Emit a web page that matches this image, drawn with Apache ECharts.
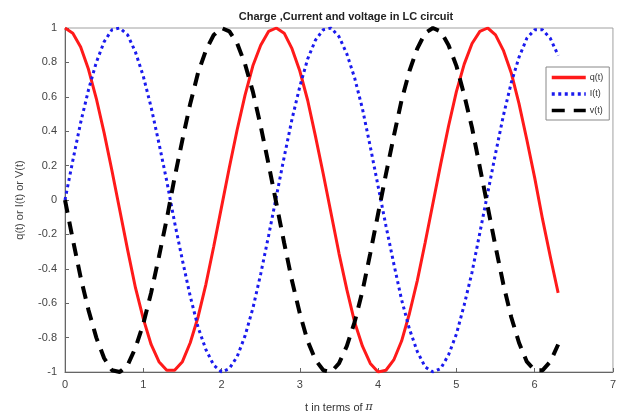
<!DOCTYPE html>
<html>
<head>
<meta charset="utf-8">
<script src="https://cdn.jsdelivr.net/npm/echarts@6/dist/echarts.min.js"></script>
<style>
  html, body { margin: 0; padding: 0; background: #fff; }
  #chart { width: 619px; height: 419px; }
</style>
</head>
<body>
<div id="chart"></div>
<script>
// Sample times (t), step 0.1
const tValues = [
  0.0, 0.1, 0.2, 0.3, 0.4, 0.5, 0.6, 0.7, 0.8, 0.9,
  1.0, 1.1, 1.2, 1.3, 1.4, 1.5, 1.6, 1.7, 1.8, 1.9,
  2.0, 2.1, 2.2, 2.3, 2.4, 2.5, 2.6, 2.7, 2.8, 2.9,
  3.0, 3.1, 3.2, 3.3, 3.4, 3.5, 3.6, 3.7, 3.8, 3.9,
  4.0, 4.1, 4.2, 4.3, 4.4, 4.5, 4.6, 4.7, 4.8, 4.9,
  5.0, 5.1, 5.2, 5.3, 5.4, 5.5, 5.6, 5.7, 5.8, 5.9,
  6.0, 6.1, 6.2, 6.3
];

// Charge q(t)
const chargeQ = [
  1.00, 0.97, 0.89, 0.76, 0.59, 0.39, 0.17, -0.06, -0.29, -0.51,
  -0.69, -0.84, -0.94, -0.99, -0.99, -0.94, -0.83, -0.68, -0.49, -0.27,
  -0.04, 0.19, 0.41, 0.61, 0.78, 0.90, 0.98, 1.00, 0.97, 0.88,
  0.75, 0.58, 0.37, 0.15, -0.08, -0.31, -0.52, -0.71, -0.85, -0.95,
  -1.00, -0.99, -0.93, -0.82, -0.66, -0.47, -0.25, -0.02, 0.21, 0.43,
  0.63, 0.79, 0.91, 0.98, 1.00, 0.96, 0.87, 0.74, 0.56, 0.35,
  0.13, -0.11, -0.33, -0.54
];

// Current I(t)
const currentI = [
  0.00, 0.23, 0.45, 0.64, 0.80, 0.92, 0.99, 1.00, 0.96, 0.86,
  0.72, 0.54, 0.33, 0.11, -0.13, -0.35, -0.56, -0.74, -0.87, -0.96,
  -1.00, -0.98, -0.91, -0.79, -0.63, -0.43, -0.21, 0.02, 0.25, 0.47,
  0.66, 0.82, 0.93, 0.99, 1.00, 0.95, 0.85, 0.71, 0.53, 0.31,
  0.08, -0.15, -0.37, -0.58, -0.75, -0.88, -0.97, -1.00, -0.98, -0.90,
  -0.78, -0.61, -0.42, -0.19, 0.04, 0.27, 0.49, 0.68, 0.83, 0.94,
  0.99, 0.99, 0.94, 0.84
];

// Voltage v(t)
const voltageV = [
  0.00, -0.23, -0.45, -0.64, -0.80, -0.92, -0.99, -1.00, -0.96, -0.86,
  -0.72, -0.54, -0.33, -0.11, 0.13, 0.35, 0.56, 0.74, 0.87, 0.96,
  1.00, 0.98, 0.91, 0.79, 0.63, 0.43, 0.21, -0.02, -0.25, -0.47,
  -0.66, -0.82, -0.93, -0.99, -1.00, -0.95, -0.85, -0.71, -0.53, -0.31,
  -0.08, 0.15, 0.37, 0.58, 0.75, 0.88, 0.97, 1.00, 0.98, 0.90,
  0.78, 0.61, 0.42, 0.19, -0.04, -0.27, -0.49, -0.68, -0.83, -0.94,
  -0.99, -0.99, -0.94, -0.84
];

const seriesNames = ['q(t)', 'I(t)', 'v(t)'];
const titleText = 'Charge ,Current and voltage in LC circuit';

const pairs = (ys) => tValues.map((t, i) => [t, ys[i]]);

const font = 'Liberation Sans, Arial, sans-serif';
const chart = echarts.init(document.getElementById('chart'), null, { renderer: 'canvas' });

chart.setOption({
  backgroundColor: '#ffffff',
  animation: false,
  title: {
    text: titleText,
    left: 341,
    textAlign: 'center',
    top: 6,
    textStyle: { fontFamily: font, fontSize: 11, fontWeight: 'bold', color: '#222' }
  },
  grid: {
    left: 65, right: 2, top: 28, bottom: 47,
    show: true, borderColor: '#a0a0a0', borderWidth: 1
  },
  legend: {
    orient: 'vertical',
    left: 546,
    top: 67,
    backgroundColor: '#fff',
    borderColor: '#888',
    borderWidth: 1,
    padding: [6, 6, 5, 4],
    itemGap: 7.5,
    itemWidth: 34,
    itemHeight: 10,
    itemStyle: { opacity: 0 },
    lineStyle: { width: 3.5 },
    textStyle: { fontFamily: font, fontSize: 9, color: '#333', padding: [0, 0, 0, -1] },
    data: seriesNames
  },
  xAxis: {
    type: 'value',
    min: 0, max: 7, interval: 1,
    name: 't in terms of {pi|π}',
    nameLocation: 'middle',
    nameGap: 30,
    nameTextStyle: {
      fontFamily: font, fontSize: 11, color: '#333',
      rich: { pi: { fontFamily: 'DejaVu Serif, serif', fontStyle: 'italic', fontSize: 11, color: '#333' } }
    },
    axisLine: { show: true, onZero: false, lineStyle: { color: '#666' } },
    axisTick: { show: true, inside: true, length: 4, lineStyle: { color: '#666' } },
    axisLabel: { fontFamily: font, fontSize: 11, color: '#444', margin: 7 },
    splitLine: { show: false }
  },
  yAxis: {
    type: 'value',
    min: -1, max: 1, interval: 0.2,
    name: 'q(t) or I(t) or V(t)',
    nameLocation: 'middle',
    nameGap: 40,
    nameTextStyle: { fontFamily: font, fontSize: 11, color: '#444' },
    axisLine: { show: true, onZero: false, lineStyle: { color: '#666' } },
    axisTick: { show: true, inside: true, length: 4, lineStyle: { color: '#666' } },
    axisLabel: {
      fontFamily: font, fontSize: 11, color: '#444', margin: 8,
      formatter: (v) => String(Math.round(v * 10) / 10)
    },
    splitLine: { show: false }
  },
  series: [
    {
      name: seriesNames[0], type: 'line', data: pairs(chargeQ),
      symbol: 'none', color: '#ff1a1a',
      lineStyle: { color: '#ff1a1a', width: 3 }
    },
    {
      name: seriesNames[1], type: 'line', data: pairs(currentI),
      symbol: 'none', color: '#1a1aee',
      lineStyle: { color: '#1a1aee', width: 3, type: [3, 3.5] }
    },
    {
      name: seriesNames[2], type: 'line', data: pairs(voltageV),
      symbol: 'none', color: '#000',
      lineStyle: { color: '#000', width: 4, type: [13, 9] }
    }
  ]
});
</script>
</body>
</html>
